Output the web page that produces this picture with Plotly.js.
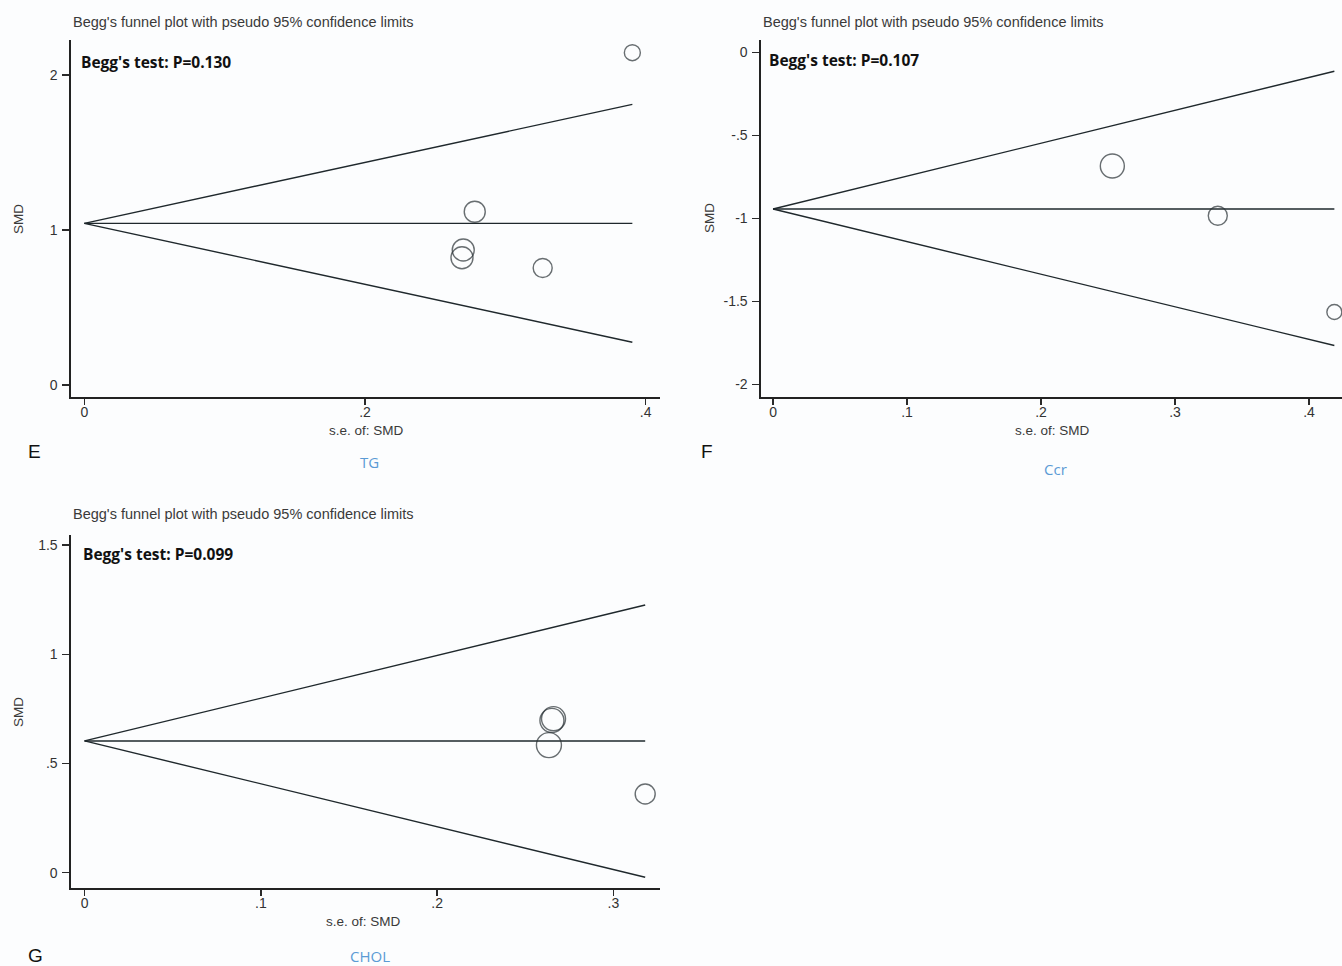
<!DOCTYPE html>
<html>
<head>
<meta charset="utf-8">
<script src="https://cdn.plot.ly/plotly-3.0.1.min.js"></script>
<style>
  html, body { margin: 0; padding: 0; background: #fcfdfe; }
  #chart { width: 1342px; height: 966px; }
</style>
</head>
<body>
<div id="chart"></div>
<script>
// ---- Study estimates (standard error, standardised mean difference) ----
const tgSe  = [0.3905, 0.2782, 0.2700, 0.2691, 0.3266];
const tgSmd = [2.144, 1.118, 0.871, 0.821, 0.755];
const tgPooled = 1.043;
const tgLimitSe = [0, 0.3905];
const tgUpper = [1.043, 1.811];
const tgLower = [1.043, 0.276];

const ccrSe  = [0.2532, 0.3319, 0.4189];
const ccrSmd = [-0.684, -0.983, -1.563];
const ccrPooled = -0.943;
const ccrLimitSe = [0, 0.4189];
const ccrUpper = [-0.943, -0.113];
const ccrLower = [-0.943, -1.765];

const cholSe  = [0.2660, 0.2651, 0.2634, 0.3180];
const cholSmd = [0.705, 0.697, 0.584, 0.360];
const cholPooled = 0.603;
const cholLimitSe = [0, 0.3180];
const cholUpper = [0.603, 1.225];
const cholLower = [0.603, -0.021];

// Begg's test p-values
const beggP = ["0.130", "0.107", "0.099"];
const panelLetters = ["E", "F", "G"];
const outcomeNames = ["TG", "Ccr", "CHOL"];
const plotTitle = "Begg's funnel plot with pseudo 95% confidence limits";
const xTitle = "s.e. of: SMD";
const yTitle = "SMD";

// tick values and labels
const tgXTicks = [0, 0.2, 0.4];        const tgXLabels = ["0", ".2", ".4"];
const tgYTicks = [0, 1, 2];            const tgYLabels = ["0", "1", "2"];
const ccrXTicks = [0, 0.1, 0.2, 0.3, 0.4]; const ccrXLabels = ["0", ".1", ".2", ".3", ".4"];
const ccrYTicks = [-2, -1.5, -1, -0.5, 0]; const ccrYLabels = ["-2", "-1.5", "-1", "-.5", "0"];
const cholXTicks = [0, 0.1, 0.2, 0.3]; const cholXLabels = ["0", ".1", ".2", ".3"];
const cholYTicks = [0, 0.5, 1, 1.5];   const cholYLabels = ["0", ".5", "1", "1.5"];

// ---- Layout helpers ----
const W = 1342, H = 966;
const fx = p => p / W;
const fy = p => 1 - p / H;

const inkLine = '#1f282c';
const markerSizes = [[16, 21, 22, 22, 19], [24, 19, 15], [24, 24, 25, 20]];

function funnelTraces(se, smd, pooled, limSe, up, lo, sizes, xa, ya) {
  const lineStyle = { color: inkLine, width: 1.4 };
  return [
    { x: limSe, y: up, xaxis: xa, yaxis: ya, mode: 'lines', line: lineStyle, hoverinfo: 'skip' },
    { x: limSe, y: lo, xaxis: xa, yaxis: ya, mode: 'lines', line: lineStyle, hoverinfo: 'skip' },
    { x: limSe, y: [pooled, pooled], xaxis: xa, yaxis: ya, mode: 'lines', line: lineStyle, hoverinfo: 'skip' },
    { x: se, y: smd, xaxis: xa, yaxis: ya, mode: 'markers', cliponaxis: false,
      marker: { symbol: 'circle', size: sizes, color: 'rgba(0,0,0,0)',
                line: { color: '#2a3236', width: 1.4 } } }
  ];
}

const data = [].concat(
  funnelTraces(tgSe, tgSmd, tgPooled, tgLimitSe, tgUpper, tgLower, markerSizes[0], 'x', 'y'),
  funnelTraces(ccrSe, ccrSmd, ccrPooled, ccrLimitSe, ccrUpper, ccrLower, markerSizes[1], 'x2', 'y2'),
  funnelTraces(cholSe, cholSmd, cholPooled, cholLimitSe, cholUpper, cholLower, markerSizes[2], 'x3', 'y3')
);

const tickFont = { family: 'Arial, "Liberation Sans", sans-serif', size: 14, color: '#333333' };

function xAxis(domPx, range, vals, labels, anchor) {
  return {
    domain: [fx(domPx[0]), fx(domPx[1])], range: range, anchor: anchor,
    tickmode: 'array', tickvals: vals, ticktext: labels,
    showline: true, linecolor: '#222', linewidth: 1.6,
    ticks: 'outside', ticklen: 6, tickwidth: 1.4, tickcolor: '#2a2a2a',
    ticklabelstandoff: -4,
    showgrid: false, zeroline: false, tickfont: tickFont, fixedrange: true
  };
}
function yAxis(domPx, range, vals, labels, anchor) {
  return {
    domain: [fy(domPx[1]), fy(domPx[0])], range: range, anchor: anchor,
    tickmode: 'array', tickvals: vals, ticktext: labels,
    showline: true, linecolor: '#222', linewidth: 1.6,
    ticks: 'outside', ticklen: 7, tickwidth: 1.4, tickcolor: '#2a2a2a',
    ticklabelstandoff: 2,
    showgrid: false, zeroline: false, tickfont: tickFont, fixedrange: true
  };
}

// pixel frames of the three plot regions
const frames = [
  { x: [71, 660],  y: [40, 397] },
  { x: [761, 1342], y: [40, 397] },
  { x: [71, 660],  y: [535, 888] }
];

const annotations = [];
const titleFont = { family: 'Arial, "Liberation Sans", sans-serif', size: 14.5, color: '#3a3a3a' };
const beggFont = { family: '"Open Sans", "Noto Sans", sans-serif', size: 15.5, color: '#111' };
const axisTitleFont = { family: 'Arial, "Liberation Sans", sans-serif', size: 13.5, color: '#3a3a3a' };
const letterFont = { family: 'Arial, "Liberation Sans", sans-serif', size: 19, color: '#111' };
const outcomeFont = { family: '"Open Sans", "Noto Sans", sans-serif', size: 15, color: '#5B9BD5' };

const textPos = [
  { title: [71, 22], begg: [79, 62], xt: [366, 430], yt: [18, 219], letter: [34, 451], outcome: [370, 462] },
  { title: [761, 22], begg: [767, 60], xt: [1052, 430], yt: [709, 218], letter: [707, 451], outcome: [1055, 469] },
  { title: [71, 514], begg: [81, 554], xt: [363, 921], yt: [18, 712], letter: [35, 955], outcome: [370, 956] }
];

textPos.forEach((t, i) => {
  const common = { xref: 'paper', yref: 'paper', showarrow: false };
  annotations.push(Object.assign({}, common, { text: plotTitle, x: fx(t.title[0]), y: fy(t.title[1]),
    xanchor: 'left', yanchor: 'middle', font: titleFont }));
  annotations.push(Object.assign({}, common, { text: "<b>Begg's test: P=" + beggP[i] + "</b>",
    x: fx(t.begg[0]), y: fy(t.begg[1]), xanchor: 'left', yanchor: 'middle', font: beggFont }));
  annotations.push(Object.assign({}, common, { text: xTitle, x: fx(t.xt[0]), y: fy(t.xt[1]),
    xanchor: 'center', yanchor: 'middle', font: axisTitleFont }));
  annotations.push(Object.assign({}, common, { text: yTitle, x: fx(t.yt[0]), y: fy(t.yt[1]),
    xanchor: 'center', yanchor: 'middle', textangle: -90, font: axisTitleFont }));
  annotations.push(Object.assign({}, common, { text: panelLetters[i], x: fx(t.letter[0]), y: fy(t.letter[1]),
    xanchor: 'center', yanchor: 'middle', font: letterFont }));
  annotations.push(Object.assign({}, common, { text: outcomeNames[i], x: fx(t.outcome[0]), y: fy(t.outcome[1]),
    xanchor: 'center', yanchor: 'middle', font: outcomeFont }));
});

const layout = {
  width: W, height: H,
  margin: { l: 0, r: 0, t: 0, b: 0, pad: 0 },
  paper_bgcolor: '#fcfdfe', plot_bgcolor: '#fcfdfe',
  showlegend: false,
  xaxis:  xAxis(frames[0].x, [-0.0095, 0.4102], tgXTicks, tgXLabels, 'y'),
  yaxis:  yAxis(frames[0].y, [-0.077, 2.226], tgYTicks, tgYLabels, 'x'),
  xaxis2: xAxis(frames[1].x, [-0.009, 0.4246], ccrXTicks, ccrXLabels, 'y2'),
  yaxis2: yAxis(frames[1].y, [-2.075, 0.075], ccrYTicks, ccrYLabels, 'x2'),
  xaxis3: xAxis(frames[2].x, [-0.0077, 0.3264], cholXTicks, cholXLabels, 'y3'),
  yaxis3: yAxis(frames[2].y, [-0.070, 1.5455], cholYTicks, cholYLabels, 'x3'),
  annotations: annotations
};

Plotly.newPlot('chart', data, layout, { staticPlot: true, displayModeBar: false });
</script>
</body>
</html>
